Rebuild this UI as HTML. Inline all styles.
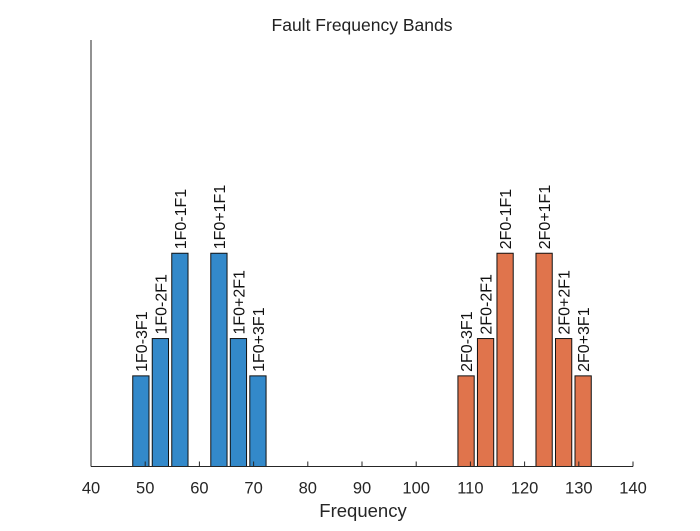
<!DOCTYPE html>
<html><head><meta charset="utf-8"><style>
body{margin:0;background:#fff}
svg{font-family:"Liberation Sans",Arial,sans-serif}
</style></head><body>
<svg id="chart" width="700" height="526" viewBox="0 0 700 526" xmlns="http://www.w3.org/2000/svg">
<rect width="700" height="526" fill="#fff"/>
<text x="362" y="31" font-size="17.5" text-anchor="middle" fill="#222">Fault Frequency Bands</text>
<g id="bars"></g>
<g id="axes"></g>
<text x="363" y="517" font-size="18.5" text-anchor="middle" fill="#262626">Frequency</text>
</svg>
<script>
const labels1 = ["1F0-3F1","1F0-2F1","1F0-1F1","1F0+1F1","1F0+2F1","1F0+3F1"];
const freqs1 = [49.2,52.8,56.4,63.6,67.2,70.8];
const amps1 = [0.425,0.6,1,1,0.6,0.425];
const labels2 = ["2F0-3F1","2F0-2F1","2F0-1F1","2F0+1F1","2F0+2F1","2F0+3F1"];
const freqs2 = [109.2,112.8,116.4,123.6,127.2,130.8];
const amps2 = [0.425,0.6,1,1,0.6,0.425];
const xTicks = [40,50,60,70,80,90,100,110,120,130,140];
const barWidth = 3;

const NS="http://www.w3.org/2000/svg";
const x0=91,x1=633,yb=466.5,yt=40,xmin=40,xmax=140,ymax=2;
const X=v=>x0+(v-xmin)/(xmax-xmin)*(x1-x0);
const Y=v=>yb-v/ymax*(yb-yt);
const bars=document.getElementById('bars'), axes=document.getElementById('axes');
function mk(tag,attrs,parent){const e=document.createElementNS(NS,tag);for(const k in attrs)e.setAttribute(k,attrs[k]);parent.appendChild(e);return e;}
function series(fr,am,lb,color,name){
  fr.forEach((f,i)=>{
    const r=mk('rect',{x:X(f-barWidth/2),y:Y(am[i]),width:X(f+barWidth/2)-X(f-barWidth/2),height:yb-Y(am[i]),fill:color,stroke:'#111','stroke-width':1},bars);
    
    
    const tx=X(f)+6, ty=Y(am[i])-4;
    const t=mk('text',{x:tx,y:ty,'font-size':16,fill:'#111',transform:`rotate(-90 ${tx} ${ty})`},bars);
    t.textContent=lb[i];
    
    
  });
}
series(freqs1,amps1,labels1,'#3389ca','band1');
series(freqs2,amps2,labels2,'#e0744c','band2');
const ya=mk('line',{x1:x0,y1:yt,x2:x0,y2:yb,stroke:'#262626','stroke-width':1},axes);


const xa=mk('line',{x1:x0,y1:yb,x2:x1,y2:yb,stroke:'#262626','stroke-width':1},axes);


xTicks.forEach(v=>{
  const tk=mk('line',{x1:X(v),y1:yb,x2:X(v),y2:yb-5,stroke:'#262626','stroke-width':1},axes);
  
  
  const t=mk('text',{x:X(v),y:yb+27,'font-size':16.5,'text-anchor':'middle',fill:'#262626'},axes);
  t.textContent=v;
  
  
});
</script>
</body></html>
